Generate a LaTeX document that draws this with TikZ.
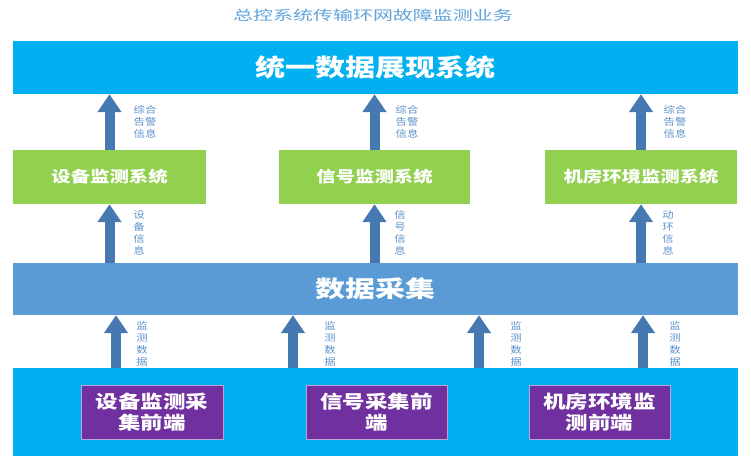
\documentclass[tikz,border=0pt]{standalone}
\usepackage{fontspec}
\newfontfamily\cjk{Noto Sans CJK SC}
\usetikzlibrary{arrows.meta,positioning,calc}
\definecolor{skyblue}{HTML}{00B0F0}
\definecolor{leafgreen}{HTML}{92D050}
\definecolor{midblue}{HTML}{5B9BD5}
\definecolor{deeppurple}{HTML}{7030A0}
\definecolor{arrowblue}{HTML}{4678B2}
\definecolor{tagblue}{HTML}{5E93CC}
\definecolor{titleblue}{HTML}{5FA3DC}
\newcommand{\wide}[2][1.25]{\scalebox{#1}[1]{#2}}

\begin{document}
\begin{tikzpicture}[x=1pt, y=-1pt, every node/.style={font=\cjk},
  box/.style={inner sep=0pt, text=white, font=\cjk\bfseries},
  flow/.style={draw=arrowblue, line width=10pt, -{Triangle[length=18pt,width=23pt]}},
  tag/.style={inner sep=0pt, align=center, text=tagblue, font=\cjk\fontsize{9.5}{12}\selectfont}]
\fill[white] (0,0) rectangle (751,462);
\useasboundingbox (0,0) rectangle (751,462);
% title
\node[text=titleblue, font=\cjk\fontsize{13.5}{15}\selectfont] (title) at (373,15) {\wide[1.48]{总控系统传输环网故障监测业务}};
% layers
\node[box, fill=skyblue, minimum width=725pt, minimum height=53pt, font=\cjk\bfseries\fontsize{24}{28}\selectfont] (top) at (375.5,67.5) {\wide{统一数据展现系统}};
\node[box, fill=leafgreen, minimum width=193pt, minimum height=54pt, font=\cjk\bfseries\fontsize{15.5}{18}\selectfont] (g1) at (109.5,177) {\wide{设备监测系统}};
\node[box, fill=leafgreen, minimum width=191pt, minimum height=54pt, font=\cjk\bfseries\fontsize{15.5}{18}\selectfont] (g2) at (374.5,177) {\wide{信号监测系统}};
\node[box, fill=leafgreen, minimum width=192pt, minimum height=54pt, font=\cjk\bfseries\fontsize{15.5}{18}\selectfont] (g3) at (641,177) {\wide{机房环境监测系统}};
\node[box, fill=midblue, minimum width=725pt, minimum height=52pt, font=\cjk\bfseries\fontsize{23}{27}\selectfont] (acq) at (375.5,289) {\wide[1.3]{数据采集}};
\node[box, fill=skyblue, minimum width=725pt, minimum height=88pt] (bot) at (375.5,412) {};
\node[box, fill=deeppurple, draw=deeppurple!45!white, line width=1pt, minimum width=142pt, minimum height=54pt, align=center, font=\cjk\bfseries\fontsize{18}{21}\selectfont] (p1) at (152,412) {\wide{设备监测采}\\\wide{集前端}};
\node[box, fill=deeppurple, draw=deeppurple!45!white, line width=1pt, minimum width=141pt, minimum height=54pt, align=center, font=\cjk\bfseries\fontsize{18}{21}\selectfont] (p2) at (376.5,412) {\wide{信号采集前}\\\wide{端}};
\node[box, fill=deeppurple, draw=deeppurple!45!white, line width=1pt, minimum width=141pt, minimum height=54pt, align=center, font=\cjk\bfseries\fontsize{18}{21}\selectfont] (p3) at (599.5,412) {\wide{机房环境监}\\\wide{测前端}};
% arrows
\foreach \g in {g1,g2,g3}
  \draw[flow] (\g.north) -- (\g.north |- top.south);
\foreach \g in {g1,g2,g3}
  \draw[flow] (acq.north -| \g) -- (\g.south);
\foreach \x/\n in {116/1,293/2,479/3,643/4} {
  \coordinate (m\n) at (\x,0);
  \draw[flow] (bot.north -| m\n) -- (acq.south -| m\n);
}
% labels
\node[tag] (t1) at (145,122) {\wide[1.2]{综合}\\\wide[1.2]{告警}\\\wide[1.2]{信息}};
\node[tag] (t2) at (407,122) {\wide[1.2]{综合}\\\wide[1.2]{告警}\\\wide[1.2]{信息}};
\node[tag] (t3) at (675,122) {\wide[1.2]{综合}\\\wide[1.2]{告警}\\\wide[1.2]{信息}};
\node[tag] (s1) at (139,232.5) {\wide[1.2]{设}\\\wide[1.2]{备}\\\wide[1.2]{信}\\\wide[1.2]{息}};
\node[tag] (s2) at (400,232.5) {\wide[1.2]{信}\\\wide[1.2]{号}\\\wide[1.2]{信}\\\wide[1.2]{息}};
\node[tag] (s3) at (668,232.5) {\wide[1.2]{动}\\\wide[1.2]{环}\\\wide[1.2]{信}\\\wide[1.2]{息}};
\foreach \x/\n in {142/1,330/2,516/3,675/4}
  \node[tag] (d\n) at (\x,344) {\wide[1.2]{监}\\\wide[1.2]{测}\\\wide[1.2]{数}\\\wide[1.2]{据}};
\end{tikzpicture}
\end{document}
